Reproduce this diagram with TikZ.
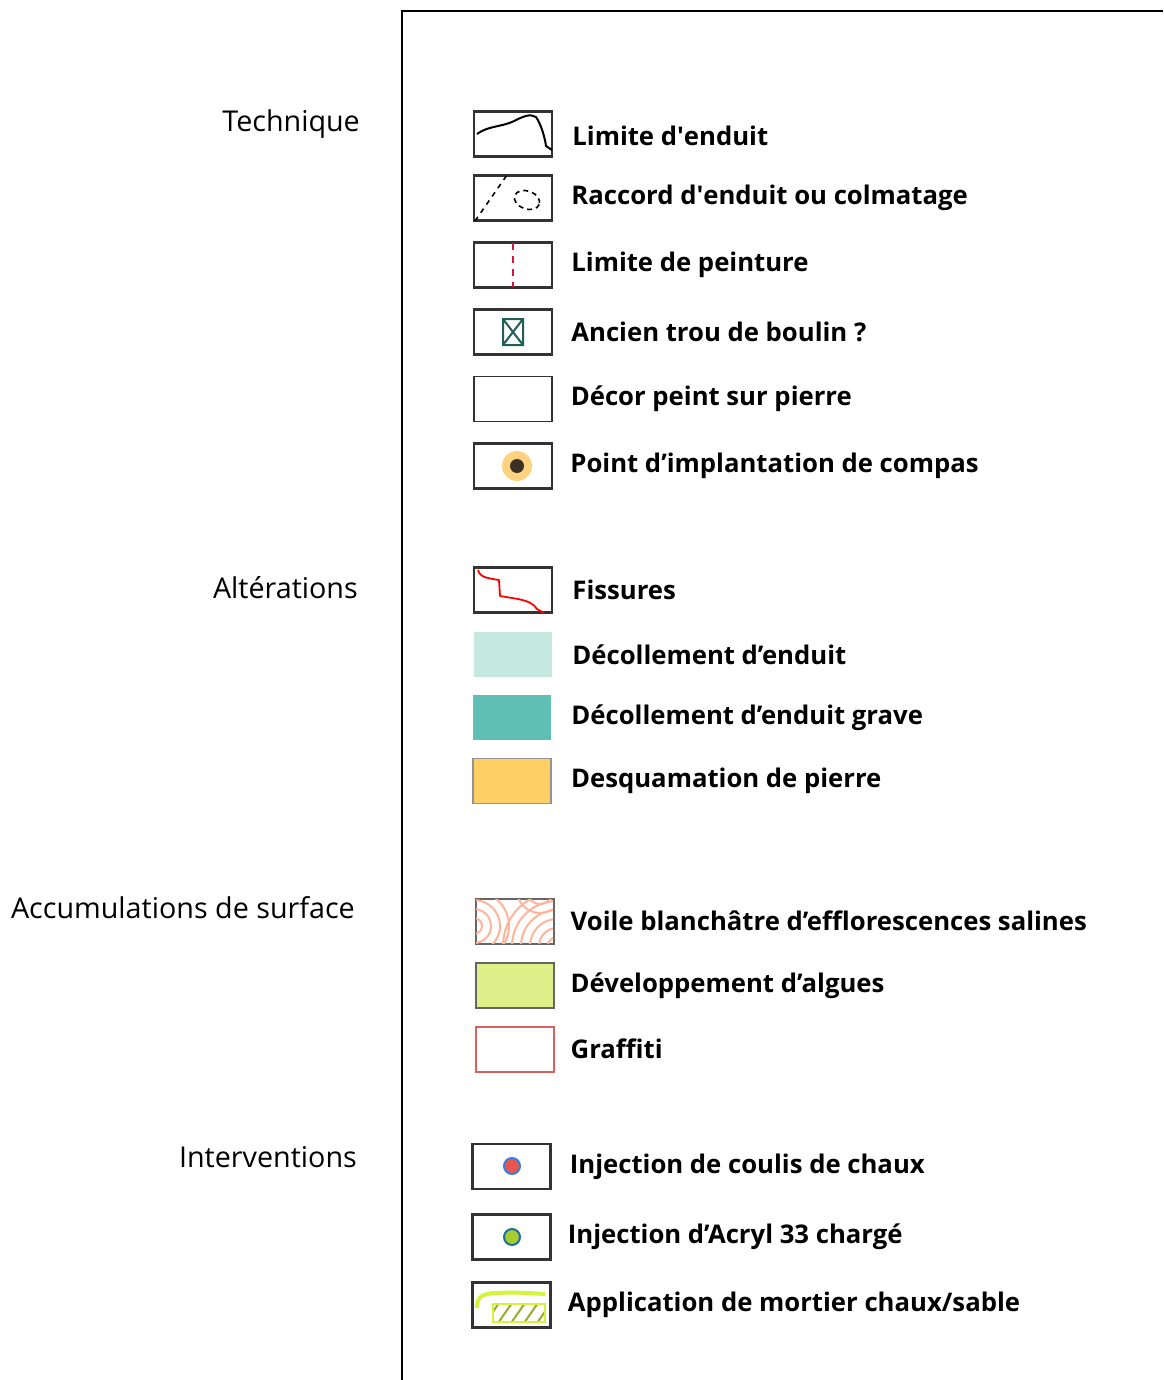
\documentclass[tikz,border=0pt]{standalone}
\usepackage{fontspec}
\setmainfont{Open Sans}
\usetikzlibrary{positioning}

\definecolor{boxgrey}{HTML}{333333}
\definecolor{peintred}{HTML}{D81440}
\definecolor{trouteal}{HTML}{1F5F55}
\definecolor{compasorange}{HTML}{FFD27F}
\definecolor{compasdot}{HTML}{3A3024}
\definecolor{decolclair}{HTML}{C5E9DF}
\definecolor{decolgrave}{HTML}{5FBFB5}
\definecolor{desquam}{HTML}{FFD066}
\definecolor{voilesalmon}{HTML}{FFB49A}
\definecolor{algues}{HTML}{DFF08A}
\definecolor{graffred}{HTML}{D9605E}
\definecolor{coulisred}{HTML}{E8564F}
\definecolor{coulisblue}{HTML}{3B7DE0}
\definecolor{acrylgreen}{HTML}{A6CC30}
\definecolor{acrylblue}{HTML}{1D6FA0}
\definecolor{mortierlime}{HTML}{D2F53C}
\definecolor{mortierolive}{HTML}{9AAA2A}

\begin{document}
\begin{tikzpicture}[x=1pt,y=-1pt,
    legbox/.style={rectangle, draw=boxgrey, line width=2.4pt, minimum width=78pt, minimum height=45pt, inner sep=0pt},
    legtext/.style={anchor=west, inner sep=0pt, font=\bfseries\fontsize{25.7}{30}\selectfont},
    cattext/.style={anchor=east, inner sep=0pt, font=\fontsize{28.7}{34}\selectfont},
    ]
    \useasboundingbox (0,0) rectangle (1163,1380);

    %Frame
    \draw[line width=2.5pt] (402,1380) -- (402,11) -- (1163,11);

    %Categories
    \node[cattext] (tech)  at (360,124)  {Technique};
    \node[cattext] (alter) at (358,588)  {Altérations};
    \node[cattext] (accum) at (355,908)  {Accumulations de surface};
    \node[cattext] (inter) at (357,1157) {Interventions};

    %Technique
    \node[legbox] (b1) at (513,134) {};
    \node[legbox] (b2) at (513,198) {};
    \node[legbox] (b3) at (513,265) {};
    \node[legbox] (b4) at (513,332) {};
    \node[legbox, line width=1.2pt] (b5) at (513,399) {};
    \node[legbox] (b6) at (513,466) {};

    \node[legtext] (t1) [right=19pt of b1, yshift=-2pt] {Limite d\textquotesingle enduit};
    \node[legtext] (t2) [right=18pt of b2] {Raccord d\textquotesingle enduit ou colmatage};
    \node[legtext] (t3) [right=18pt of b3] {Limite de peinture};
    \node[legtext] (t4) [right=18pt of b4] {Ancien trou de boulin ?};
    \node[legtext] (t5) [right=18pt of b5] {Décor peint sur pierre};
    \node[legtext] (t6) [right=17pt of b6] {Point d’implantation de compas};

    \draw[line width=2pt] (477,134) .. controls (488,126) and (500,127) .. (512,122)
        .. controls (522,117) and (530,113) .. (536,117)
        .. controls (541,124) and (545,138) .. (546,146) -- (552,150);
    \draw[line width=1.6pt, dash pattern=on 5pt off 5pt] (475,221) -- (507,175);
    \draw[line width=1.6pt, dash pattern=on 5pt off 4pt, rotate around={-20:(527,200)}] (527,200) ellipse (13 and 9);
    \draw[peintred, line width=2pt, dash pattern=on 7pt off 6pt] (513,243) -- (513,287);
    \draw[trouteal, line width=2pt] (503,319) rectangle (523,345)
        (503,319) -- (523,345) (523,319) -- (503,345);
    \fill[compasorange] (517,466) circle (15);
    \fill[compasdot] (517,466) circle (7);

    %Alterations
    \node[legbox] (b7) at (513,590) {};
    \node[legbox, draw=none, fill=decolclair] (b8) at (513,654.5) {};
    \node[legbox, draw=none, fill=decolgrave] (b9) at (512,717.5) {};
    \node[legbox, draw=gray!85, line width=1.8pt, fill=desquam] (b10) at (512,781) {};

    \node[legtext] (t7)  [right=19pt of b7]  {Fissures};
    \node[legtext] (t8)  [right=19pt of b8]  {Décollement d’enduit};
    \node[legtext] (t9)  [right=19pt of b9]  {Décollement d’enduit grave};
    \node[legtext] (t10) [right=19pt of b10] {Desquamation de pierre};

    \draw[red, line width=1.8pt, line join=round] (478,570) .. controls (480,577) and (486,578) .. (499,580)
        -- (500,596) -- (518,599) .. controls (528,601) and (534,604) .. (537,609) -- (544,613);

    %Accumulations
    \node[legbox, draw=gray!80!black, line width=2pt] (b11) at (514.5,921) {};
    \node[legbox, draw=gray!80!black, line width=2pt, fill=algues] (b12) at (514.5,985.5) {};
    \node[legbox, draw=graffred, line width=2pt] (b13) at (514.5,1049) {};

    \node[legtext] (t11) [right=16pt of b11] {Voile blanchâtre d’efflorescences salines};
    \node[legtext] (t12) [right=16pt of b12] {Développement d’algues};
    \node[legtext] (t13) [right=16pt of b13] {Graffiti};

    \begin{scope}
        \clip (476,899) rectangle (553,943);
        \foreach \r in {8,17,26,35}
            \draw[voilesalmon, line width=2pt] (474,926) circle (\r);
        \foreach \r in {9,18,27,36,45,54}
            \draw[voilesalmon, line width=2pt] (557,946) circle (\r);
        \foreach \r in {14,23}
            \draw[voilesalmon, line width=2pt] (540,890) circle (\r);
    \end{scope}

    %Interventions
    \node[legbox] (b14) at (511.5,1166.5) {};
    \node[legbox] (b15) at (511.5,1237) {};
    \node[legbox] (b16) at (511.5,1305) {};

    \node[legtext] (t14) [right=18pt of b14] {Injection de coulis de chaux};
    \node[legtext] (t15) [right=16pt of b15] {Injection d’Acryl 33 chargé};
    \node[legtext] (t16) [right=16pt of b16] {Application de mortier chaux/sable};

    \draw[coulisblue, fill=coulisred, line width=2pt] (512,1166) circle (8);
    \draw[acrylblue, fill=acrylgreen, line width=2pt] (512,1237) circle (8);

    \draw[mortierlime, line width=4pt] (477,1308) .. controls (477,1298) and (480,1294) .. (495,1293)
        .. controls (515,1292) and (530,1293) .. (545,1294);
    \begin{scope}
        \clip (493,1304) rectangle (545,1322);
        \foreach \i in {0,...,5}
            \draw[mortierolive, line width=2pt] (485+13*\i,1323) -- (499+13*\i,1303);
    \end{scope}
    \draw[mortierlime, line width=2pt] (493,1304) rectangle (545,1322);
\end{tikzpicture}
\end{document}
